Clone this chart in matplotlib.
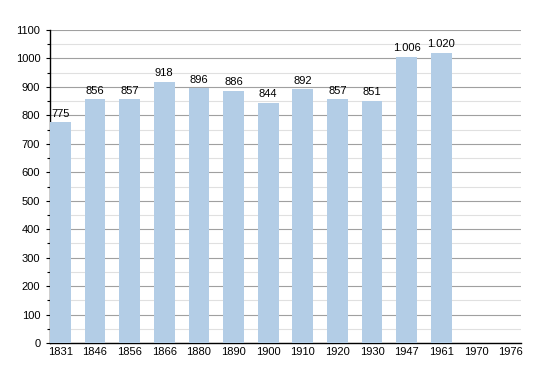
import matplotlib
matplotlib.use('Agg')
import matplotlib.pyplot as plt
from matplotlib.ticker import MultipleLocator

years = ['1831', '1846', '1856', '1866', '1880', '1890', '1900',
         '1910', '1920', '1930', '1947', '1961', '1970', '1976']
population = [775, 856, 857, 918, 896, 886, 844,
              892, 857, 851, 1006, 1020, None, None]


def fmt(v):
    # thousands separator is a dot
    return f'{v:,}'.replace(',', '.')


def main():
    plt.rcParams['font.family'] = ['Liberation Sans', 'DejaVu Sans']
    fig = plt.figure(figsize=(5.5, 3.73), dpi=100)
    ax = fig.add_axes([50 / 550, 30 / 373, 471 / 550, 313 / 373])

    xs = list(range(len(years)))
    for x, v in zip(xs, population):
        if v is None:
            continue
        ax.bar(x, v, width=0.6, color='#b3cde6', zorder=3)
        ax.text(x, v + 12, fmt(v), ha='center', va='bottom', fontsize=8, zorder=4)

    ax.set_xlim(-0.3, 13.3)
    ax.set_ylim(0, 1100)
    ax.set_xticks(xs)
    ax.set_xticklabels(years, fontsize=8)
    ax.tick_params(axis='x', length=0, pad=3)
    ax.yaxis.set_major_locator(MultipleLocator(100))
    ax.yaxis.set_minor_locator(MultipleLocator(50))
    ax.tick_params(axis='y', which='major', labelsize=8, length=3, width=0.8, pad=4)
    ax.tick_params(axis='y', which='minor', length=2, width=0.8)

    ax.grid(axis='y', which='major', color='#a0a0a0', linewidth=0.8, zorder=0)
    ax.grid(axis='y', which='minor', color='#e0e0e0', linewidth=0.8, zorder=0)
    for side in ['top', 'right']:
        ax.spines[side].set_visible(False)
    ax.spines['left'].set_linewidth(1)
    ax.spines['bottom'].set_linewidth(1)

    fig.savefig('out.png', dpi=100)


if __name__ == '__main__':
    main()
